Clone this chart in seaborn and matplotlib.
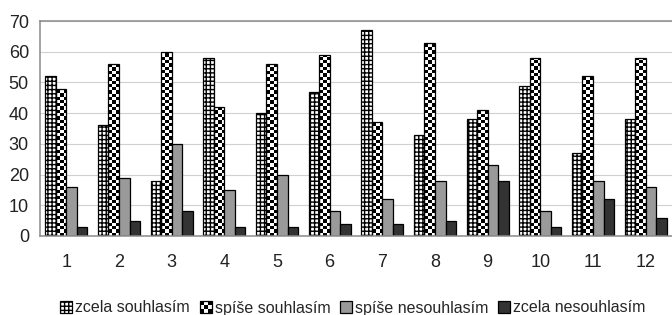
import numpy as np
import pandas as pd
import matplotlib
matplotlib.use("Agg")
import matplotlib.pyplot as plt
from matplotlib.legend_handler import HandlerBase
from matplotlib.patches import Rectangle
import seaborn as sns

# data
items = [str(i) for i in range(1, 13)]
series = ["zcela souhlasím", "spíše souhlasím", "spíše nesouhlasím", "zcela nesouhlasím"]
zcela_souhlasim = [52, 36, 18, 58, 40, 47, 67, 33, 38, 49, 27, 38]
spise_souhlasim = [48, 56, 60, 42, 56, 59, 37, 63, 41, 58, 52, 58]
spise_nesouhlasim = [16, 19, 30, 15, 20, 8, 12, 18, 23, 8, 18, 16]
zcela_nesouhlasim = [3, 5, 8, 3, 3, 4, 4, 5, 18, 3, 12, 6]

values = [zcela_souhlasim, spise_souhlasim, spise_nesouhlasim, zcela_nesouhlasim]
df = pd.DataFrame({
    "item": items * 4,
    "answer": [s for s in series for _ in items],
    "pct": [v for vals in values for v in vals],
})

sns.set_style("white")
plt.rcParams["font.family"] = ["Liberation Sans", "DejaVu Sans"]
plt.rcParams["hatch.linewidth"] = 1.0

fig = plt.figure(figsize=(6.72, 3.15), dpi=100)
ax = fig.add_axes([40 / 672, 79 / 315, 632 / 672, 215 / 315])

colors = ["white", "white", "#9a9a9a", "#333333"]

sns.barplot(data=df, x="item", y="pct", hue="answer", hue_order=series,
            palette=colors, edgecolor="black", linewidth=0.9, width=0.8,
            saturation=1, ax=ax, legend=False)

for bar in ax.containers[0]:
    bar.set_hatch("++++")
    bar.set_zorder(2)

# checkerboard fill for "spiše souhlasím" (clipped image behind each bar outline)
checker = np.indices((65, 192)).sum(axis=0) % 2
for bar in ax.containers[1]:
    bar.set_facecolor("none")
    bar.set_zorder(2)
    im = ax.imshow(checker, cmap="gray", extent=(-0.5, 11.5, 0, 70), aspect="auto",
                   interpolation="nearest", zorder=1.5)
    im.set_clip_path(bar)
for c in ax.containers[2:]:
    for bar in c:
        bar.set_zorder(2)

ax.set_xlim(-0.5, 11.5)
ax.set_ylim(0, 70)
ax.set_yticks(range(0, 71, 10))
ax.yaxis.grid(True, color="#d0d0d0", linewidth=0.8)
ax.set_axisbelow(True)
ax.set_xlabel("")
ax.set_ylabel("")
ax.tick_params(axis="both", labelsize=13, colors="#222222")
ax.tick_params(axis="x", length=0, pad=13)
ax.tick_params(axis="y", length=4, color="#8a8a8a", pad=4)

ax.spines["right"].set_visible(False)
for side in ["top", "bottom", "left"]:
    ax.spines[side].set_color("#8a8a8a")
    ax.spines[side].set_linewidth(1.1)

# small separator ticks between the groups
ax.set_xticks([i + 0.5 for i in range(-1, 12)], minor=True)
ax.tick_params(axis="x", which="minor", length=4, color="#8a8a8a", direction="out")


class CheckerHandler(HandlerBase):
    def create_artists(self, legend, orig_handle, xdescent, ydescent,
                       width, height, fontsize, trans):
        arts = []
        n = 3
        w, h = width / n, height / n
        for i in range(n):
            for j in range(n):
                fc = "black" if (i + j) % 2 == 0 else "white"
                arts.append(Rectangle((-xdescent + i * w, -ydescent + j * h), w, h,
                                      facecolor=fc, edgecolor="none", transform=trans))
        arts.append(Rectangle((-xdescent, -ydescent), width, height, facecolor="none",
                              edgecolor="black", linewidth=0.9, transform=trans))
        return arts


leg = ax.legend(ax.containers, series, loc="center",
                bbox_to_anchor=(313 / 632, -72 / 215),
                ncol=4, frameon=False, fontsize=11.5, handlelength=0.75,
                handleheight=0.75, handletextpad=0.2, columnspacing=0.6,
                borderaxespad=0, borderpad=0,
                handler_map={ax.containers[1]: CheckerHandler()})

fig.savefig("out.png", dpi=100)
